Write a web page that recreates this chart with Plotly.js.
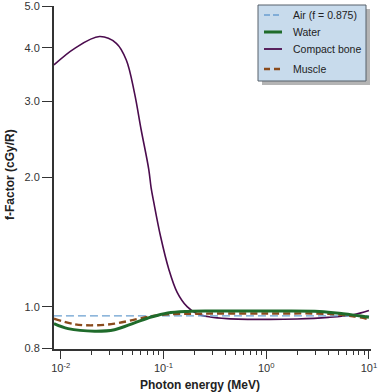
<!DOCTYPE html>
<html>
<head>
<meta charset="utf-8">
<script src="https://cdn.plot.ly/plotly-3.0.1.min.js"></script>
<style>
html,body{margin:0;padding:0;background:#fff;}
#chart{width:380px;height:392px;}
</style>
</head>
<body>
<div id="chart"></div>
<script>
// Photon energy (MeV) and f-factor (cGy/R) values
const airE = [0.0086, 10];
const airF = [0.952, 0.952];

const waterE = [0.0086, 0.0118, 0.0214, 0.0334, 0.0523, 0.0759, 0.110, 0.172, 0.29, 1.0, 3.3, 5.6, 10];
const waterF = [0.913, 0.889, 0.877, 0.884, 0.917, 0.946, 0.967, 0.975, 0.977, 0.977, 0.975, 0.963, 0.945];

const boneE = [0.0086, 0.0137, 0.0239, 0.0348, 0.0435, 0.0523, 0.0607, 0.0719, 0.0759, 0.0805, 0.0936, 0.1126, 0.136, 0.170, 0.212, 0.286, 0.415, 1.0, 2.0, 4.0, 7.0, 10];
const boneF = [3.65, 3.99, 4.25, 4.10, 3.75, 3.14, 2.58, 2.09, 1.89, 1.75, 1.46, 1.224, 1.08, 1.0, 0.963, 0.946, 0.938, 0.934, 0.936, 0.944, 0.958, 0.98];

const muscleE = [0.0086, 0.0137, 0.0214, 0.0334, 0.0523, 0.0759, 0.110, 0.2, 1.0, 4.0, 7.0, 10];
const muscleF = [0.938, 0.910, 0.905, 0.913, 0.933, 0.950, 0.960, 0.963, 0.964, 0.962, 0.950, 0.935];

const seriesNames = ['Air (f = 0.875)', 'Water', 'Compact bone', 'Muscle'];

const xTickVals = [0.01, 0.1, 1, 10];
const xTickText = ['10<sup>-2</sup>', '10<sup>-1</sup>', '10<sup>0</sup>', '10<sup>1</sup>'];
const xMinorVals = [];
[0.01, 0.1, 1].forEach(d => { for (let k = 2; k <= 9; k++) xMinorVals.push(+(d * k).toPrecision(3)); });

const yTickVals = [0.8, 1, 2, 3, 4, 5];
const yTickText = ['0.8', '1.0', '2.0', '3.0', '4.0', '5.0'];

const FONT = 'Liberation Sans, Arial, Helvetica, sans-serif';

const colors = {air: '#6a9fcf', water: '#1f6b2b', bone: '#4b0c4e', muscle: '#8a4b1c'};

const traces = [
  {x: boneE, y: boneF, name: seriesNames[2], mode: 'lines',
   line: {color: colors.bone, width: 1.6, shape: 'spline', smoothing: 1}},
  {x: airE, y: airF, name: seriesNames[0], mode: 'lines',
   line: {color: colors.air, width: 1.3, dash: '8px,4px'}},
  {x: muscleE, y: muscleF, name: seriesNames[3], mode: 'lines',
   line: {color: colors.muscle, width: 2.4, dash: '7px,4px', shape: 'spline', smoothing: 1}},
  {x: waterE, y: waterF, name: seriesNames[1], mode: 'lines',
   line: {color: colors.water, width: 3, shape: 'spline', smoothing: 1}}
];

// plot area in pixels: left 54, right 371, top 6, bottom 349
const PL = 54, PR = 371, PT = 6, PB = 349;
const px = x => (x - PL) / (PR - PL);
const py = y => (PB - y) / (PB - PT);

// legend (drawn with shapes + annotations)
const legRows = [15, 32, 49, 69];
const legStyles = [
  {color: colors.air, width: 1.3, dash: '6px,3px'},
  {color: colors.water, width: 3, dash: 'solid'},
  {color: colors.bone, width: 1.8, dash: 'solid'},
  {color: colors.muscle, width: 2.4, dash: '6px,4px'}
];
const shapes = [
  {type: 'rect', xref: 'paper', yref: 'paper', x0: px(262), x1: px(370), y0: py(85), y1: py(9),
   fillcolor: '#b4b4b4', line: {width: 0}},
  {type: 'rect', xref: 'paper', yref: 'paper', x0: px(258), x1: px(366), y0: py(81), y1: py(5),
   fillcolor: '#c8dbec', line: {color: '#56606b', width: 1}}
];
const annotations = [
  {text: '<b>Photon energy (MeV)</b>', xref: 'paper', yref: 'paper',
   x: px(200), y: py(385), xanchor: 'center', yanchor: 'middle', showarrow: false,
   font: {family: FONT, size: 12, color: '#222222'}},
  {text: '<b>f-Factor (cGy/R)</b>', xref: 'paper', yref: 'paper',
   x: px(10), y: py(175), xanchor: 'center', yanchor: 'middle', showarrow: false, textangle: -90,
   font: {family: FONT, size: 12, color: '#222222'}}
];
seriesNames.forEach((n, i) => {
  shapes.push({type: 'line', xref: 'paper', yref: 'paper', x0: px(264), x1: px(282),
    y0: py(legRows[i]), y1: py(legRows[i]), line: legStyles[i]});
  annotations.push({text: n, xref: 'paper', yref: 'paper', x: px(291), y: py(legRows[i]),
    xanchor: 'left', yanchor: 'middle', showarrow: false,
    font: {family: FONT, size: 10.5, color: '#222222'}});
});

const layout = {
  width: 380, height: 392,
  margin: {l: PL, r: 380 - PR, t: PT, b: 392 - PB},
  paper_bgcolor: '#ffffff', plot_bgcolor: '#ffffff',
  font: {family: FONT, size: 11, color: '#333333'},
  showlegend: false,
  xaxis: {
    type: 'log', range: [-2.065, 1.02],
    showline: true, linewidth: 2, linecolor: '#333333',
    showgrid: false, zeroline: false,
    ticks: 'outside', ticklen: 8, tickwidth: 1, tickcolor: '#333333',
    tickmode: 'array', tickvals: xTickVals, ticktext: xTickText,
    ticklabeloverflow: 'allow',
    tickfont: {family: FONT, size: 11, color: '#333333'},
    minor: {tickmode: 'array', tickvals: xMinorVals, ticks: 'outside', ticklen: 4, tickwidth: 1, tickcolor: '#333333', showgrid: false}
  },
  yaxis: {
    type: 'log', range: [-0.0985, 0.6995],
    showline: true, linewidth: 2, linecolor: '#333333',
    showgrid: false, zeroline: false,
    ticks: 'outside', ticklen: 10, tickwidth: 1, tickcolor: '#333333',
    tickmode: 'array', tickvals: yTickVals, ticktext: yTickText,
    ticklabeloverflow: 'allow',
    tickfont: {family: FONT, size: 11, color: '#333333'}
  },
  shapes: shapes,
  annotations: annotations
};

Plotly.newPlot('chart', traces, layout, {displayModeBar: false, staticPlot: true});
</script>
</body>
</html>
